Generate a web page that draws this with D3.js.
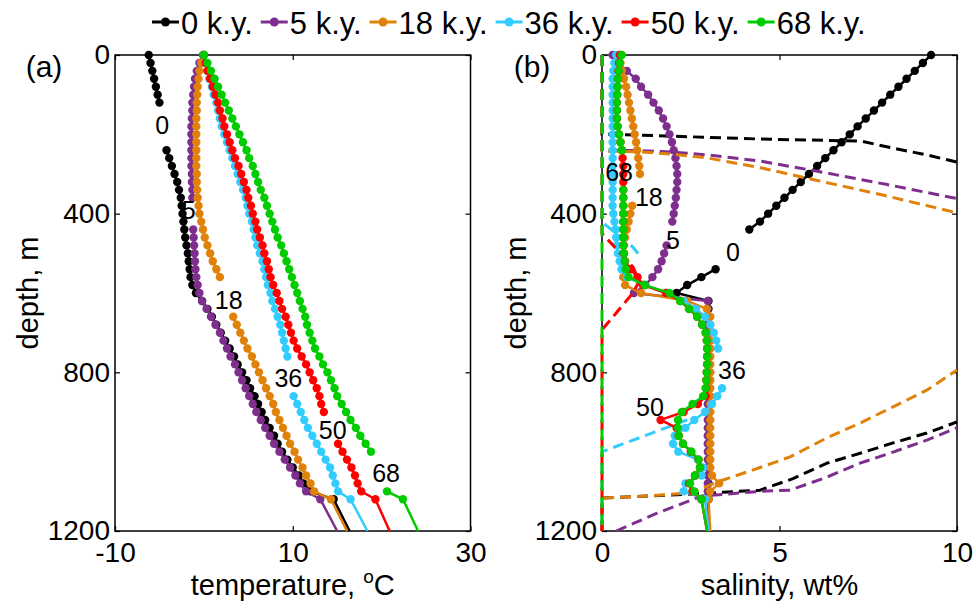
<!DOCTYPE html>
<html>
<head>
<meta charset="utf-8">
<script src="https://d3js.org/d3.v7.min.js"></script>
<style>
  body { margin: 0; background: #fff; }
  text { font-family: "Liberation Sans", Arial, Helvetica, sans-serif; fill: #000; }
</style>
</head>
<body>
<div id="chart"></div>
<script>
// depth grid (m) shared by all profiles; markers are drawn down to 1120 m
var depth = [
  0, 20, 40, 60, 80,
  100, 120, 140, 160, 180,
  200, 220, 240, 260, 280,
  300, 320, 340, 360, 380,
  400, 420, 440, 460, 480,
  500, 520, 540, 560, 580,
  600, 620, 640, 660, 680,
  700, 720, 740, 760, 780,
  800, 820, 840, 860, 880,
  900, 920, 940, 960, 980,
  1000, 1020, 1040, 1060, 1080,
  1100, 1120, 1200
];
var lastMarkedDepth = 1120;

var seriesNames = ["0 k.y.", "5 k.y.", "18 k.y.", "36 k.y.", "50 k.y.", "68 k.y."];
var seriesShort = ["0", "5", "18", "36", "50", "68"];
var seriesColors = ["#000000", "#7e2f8e", "#e0820a", "#33ccff", "#ff0000", "#00cc00"];

// (a) temperature, degC  (null = gap left for the curve label)
var temp0 = [
  -6.2, -6.0, -5.8, -5.6, -5.4,
  -5.2, -5.0, null, null, null,
  null, null, -4.2, -3.9, -3.6,
  -3.3, -3.0, -2.8, -2.6, -2.5,
  -2.4, -2.3, -2.2, -2.1, -1.95,
  -1.8, -1.7, -1.6, -1.5, -1.3,
  -0.9, -0.2, 0.4, 0.9, 1.4,
  1.9, 2.4, 2.9, 3.4, 3.8,
  4.3, 4.8, 5.2, 5.7, 6.1,
  6.5, 6.9, 7.4, 7.9, 8.3,
  8.8, 9.4, 10.0, 10.7, 11.2,
  12.0, 14.6, 16.4
];
var temp5 = [
  -0.1, -0.5, -0.8, -1.0, -1.1,
  -1.2, -1.3, -1.3, -1.35, -1.4,
  -1.4, -1.4, -1.4, -1.4, -1.4,
  -1.35, -1.35, -1.3, -1.3, null,
  null, null, -1.2, -1.15, -1.1,
  -1.05, -1.0, -0.95, -0.85, -0.7,
  -0.5, -0.2, 0.3, 0.8, 1.3,
  1.8, 2.2, 2.6, 3.0, 3.5,
  3.9, 4.3, 4.7, 5.1, 5.5,
  5.9, 6.4, 6.9, 7.4, 7.9,
  8.5, 9.1, 9.7, 10.3, 10.8,
  11.5, 13.1, 15.0
];
var temp18 = [
  0.0, -0.3, -0.5, -0.6, -0.7,
  -0.75, -0.8, -0.8, -0.85, -0.85,
  -0.85, -0.85, -0.85, -0.85, -0.85,
  -0.8, -0.8, -0.75, -0.7, -0.6,
  -0.5, -0.3, -0.1, 0.1, 0.4,
  0.7, 1.0, 1.4, 1.8, null,
  null, null, null, 3.3, 3.7,
  4.1, 4.5, 4.9, 5.4, 5.8,
  6.2, 6.6, 7.0, 7.4, 7.8,
  8.1, 8.5, 8.9, 9.3, 9.7,
  10.2, 10.6, 11.1, 11.5, 12.0,
  12.4, 14.3, 16.1
];
var temp36 = [
  0.0, 0.2, 0.4, 0.6, 0.9,
  1.1, 1.4, 1.6, 1.8, 2.0,
  2.3, 2.6, 2.9, 3.2, 3.5,
  3.8, 4.1, 4.4, 4.7, 4.9,
  5.1, 5.4, 5.6, 5.8, 6.0,
  6.3, 6.6, 6.8, 7.0, 7.2,
  7.5, 7.7, 8.0, 8.3, 8.6,
  8.8, 9.0, 9.2, 9.4, null,
  null, null, null, 10.1, 10.5,
  10.9, 11.3, 11.7, 12.2, 12.7,
  13.2, 13.7, 14.2, 14.5, 14.8,
  15.1, 16.5, 18.4
];
var temp50 = [
  0.0, 0.2, 0.4, 0.7, 1.0,
  1.3, 1.6, 1.8, 2.1, 2.3,
  2.6, 2.9, 3.2, 3.5, 3.9,
  4.2, 4.5, 4.8, 5.0, 5.3,
  5.5, 5.8, 6.0, 6.3, 6.6,
  6.8, 7.1, 7.3, 7.5, 7.8,
  8.2, 8.5, 8.8, 9.2, 9.5,
  9.8, 10.1, 10.5, 11.0, 11.5,
  11.9, 12.3, 12.7, 13.0, 13.2,
  13.5, null, null, null, 15.1,
  15.6, 16.1, 16.6, 17.0, 17.3,
  17.7, 19.3, 20.9
];
var temp68 = [
  0.0, 0.4, 0.8, 1.2, 1.6,
  2.0, 2.4, 2.8, 3.2, 3.6,
  4.0, 4.4, 4.8, 5.1, 5.5,
  5.8, 6.1, 6.4, 6.8, 7.1,
  7.4, 7.7, 8.0, 8.3, 8.7,
  9.0, 9.3, 9.6, 9.9, 10.2,
  10.5, 10.8, 11.1, 11.4, 11.6,
  11.9, 12.2, 12.5, 13.0, 13.4,
  13.9, 14.3, 14.7, 15.0, 15.5,
  16.0, 16.5, 17.1, 17.6, 18.2,
  18.8, null, null, null, null,
  20.6, 22.4, 24.1
];

// (b) salinity, wt%
var sal0 = [
  9.27, 9.04, 8.81, 8.58, 8.35,
  8.12, 7.89, 7.66, 7.43, 7.2,
  6.98, 6.75, 6.52, 6.29, 6.06,
  5.83, 5.6, 5.37, 5.14, 4.91,
  4.68, 4.45, 4.15, null, null,
  null, null, 3.2, 2.8, 2.4,
  2.1, 3.0, 3.0, 3.0, 3.0,
  3.0, 3.0, 3.0, 3.0, 3.0,
  3.0, 3.0, 3.0, 3.0, 3.0,
  3.0, 3.0, 3.0, 3.0, 3.0,
  3.0, 3.0, 3.0, 3.0, 3.0,
  3.0, 3.0, 3.0
];
var sal5 = [
  0.3, 0.45, 0.7, 0.95, 1.1,
  1.3, 1.45, 1.6, 1.72, 1.82,
  1.9, 1.97, 2.02, 2.07, 2.1,
  2.12, 2.12, 2.1, 2.08, 2.05,
  2.02, 1.98, null, null, 1.82,
  1.75, 1.68, 1.58, 1.42, 1.22,
  0.9, 2.98, 2.98, 2.98, 2.98,
  2.98, 2.98, 2.98, 2.98, 2.98,
  2.98, 2.98, 2.98, 2.98, 2.98,
  2.98, 2.98, 2.98, 2.98, 2.98,
  2.98, 2.98, 2.98, 2.98, 2.98,
  2.98, 2.98, 2.98
];
var sal18 = [
  0.5, 0.52, 0.56, 0.62, 0.68,
  0.72, 0.76, 0.8, 0.84, 0.88,
  0.92, 0.96, 0.99, 1.02, 1.05,
  1.07, null, null, null, 0.85,
  0.8, 0.75, 0.7, 0.65, 0.62,
  0.6, 0.6, 0.6, 0.6, 0.65,
  1.1, 2.4, 2.95, 3.05, 3.05,
  3.05, 3.05, 3.05, 3.05, 3.05,
  3.05, 3.05, 3.05, 3.05, 3.05,
  3.05, 3.05, 3.05, 3.05, 3.05,
  3.05, 3.05, 3.05, 3.1, 3.3,
  3.05, 3.0, 3.05
];
var sal36 = [
  0.4, 0.35, 0.32, 0.3, 0.3,
  0.3, 0.3, 0.3, 0.3, 0.3,
  0.3, 0.3, 0.3, 0.3, 0.3,
  0.3, 0.3, 0.3, 0.3, 0.3,
  0.32, 0.35, 0.38, 0.4, 0.42,
  0.45, 0.5, 0.55, 0.7, 1.2,
  1.83, 2.3, 2.65, 2.9, 3.05,
  3.15, 3.22, 3.27, null, null,
  null, null, 3.38, 3.25, 3.1,
  2.9, 2.6, 2.35, 2.05, 2.0,
  2.15, 2.7, 2.85, 2.8, 2.35,
  2.3, 2.9, 3.0
];
var sal50 = [
  0.5, 0.48, 0.46, 0.45, 0.44,
  0.43, 0.42, 0.42, 0.42, 0.44,
  0.48, 0.52, 0.56, 0.58, 0.6,
  0.6, 0.6, 0.6, 0.6, 0.6,
  0.6, 0.6, 0.6, 0.6, 0.6,
  0.62, 0.65, 0.8, 1.0, 1.15,
  1.8, 2.2, 2.45, 2.68, 2.82,
  2.92, 2.95, 2.96, 2.96, 2.96,
  2.95, 2.94, 2.93, 2.92, 2.7,
  2.3, 1.65, 2.1, 2.16, 2.28,
  2.5, 2.72, 2.76, 2.62, 2.45,
  2.55, 2.8, 2.96
];
var sal68 = [
  0.56, 0.5, 0.47, 0.45, 0.44,
  0.43, 0.42, 0.42, 0.42, 0.44,
  0.48, 0.52, 0.56, null, null,
  null, null, 0.6, 0.6, 0.6,
  0.6, 0.6, 0.6, 0.6, 0.6,
  0.62, 0.64, 0.67, 0.75, 1.2,
  1.9, 2.2, 2.45, 2.68, 2.82,
  2.92, 2.95, 2.96, 2.96, 2.96,
  2.95, 2.94, 2.92, 2.85, 2.55,
  2.25, 2.14, 2.14, 2.16, 2.28,
  2.52, 2.72, 2.76, 2.62, 2.48,
  2.6, 2.8, 2.96
];

// dashed curves in (b): salinity / depth pairs, null splits a curve in pieces
var dash0S = [0, 0, 4.5, 7.3, 8.2, 9.15, 10, null, 0, 0, 2.5, 4.45, 5.38, 6.34, 7.27, 8.2, 9.15, 10];
var dash0D = [0, 199, 212, 217, 235, 252, 270, null, 1200, 1117, 1107, 1097, 1068, 1029, 1004, 978, 953, 925];
var dash5S = [0, 0, 1, 2, 3, 4.5, 6, 8, 10, null, 0.4, 1.5, 2.8, 4.45, 5.3, 6.34, 7.27, 8.2, 9.15, 10];
var dash5D = [0, 240, 241, 245, 252, 268, 292, 326, 362, null, 1200, 1157, 1112, 1100, 1097, 1064, 1029, 1001, 971, 940];
var dash18S = [0, 0, 1, 2, 3, 4.5, 6, 8, 10, null, 0, 0, 1.2, 2.5, 3.3, 4.45, 5.3, 6.34, 7.27, 8.2, 9.15, 10];
var dash18D = [0, 242, 244, 250, 260, 285, 315, 355, 398, null, 1200, 1117, 1112, 1104, 1075, 1040, 1013, 965, 928, 887, 845, 794];
var dash36S = [0, 0, 0.87, 1.1, null, 2.4, 1.2, 0, 0];
var dash36D = [0, 421, 484, 510, null, 920, 960, 1000, 1200];
var dash50S = [0, 0, 0.17, 0.87, 1.05, 0.87, 0, 0];
var dash50D = [0, 450, 466, 534, 570, 600, 693, 1200];
var dash68S = [0, 0];
var dash68D = [0, 1200];

// curve labels: [value, depth]
var labelsA = [[-4.7, 176], [-1.7, 391], [2.8, 618], [9.5, 814], [14.5, 945], [20.5, 1054]];
var labelsB = [[3.69, 497], [2.0, 466], [1.32, 358], [3.66, 794], [1.35, 887], [0.48, 295]];

var tempSeries = [temp0, temp5, temp18, temp36, temp50, temp68];
var salSeries = [sal0, sal5, sal18, sal36, sal50, sal68];
var dashS = [dash0S, dash5S, dash18S, dash36S, dash50S, dash68S];
var dashD = [dash0D, dash5D, dash18D, dash36D, dash50D, dash68D];

var W = 976, H = 608;
var plotTop = 55, plotBottom = 531;

var svg = d3.select("#chart").append("svg")
    .attr("width", W)
    .attr("height", H);

var y = d3.scaleLinear().domain([0, 1200]).range([plotTop, plotBottom]);
var xT = d3.scaleLinear().domain([-10, 30]).range([115, 470.5]);
var xS = d3.scaleLinear().domain([0, 10]).range([602, 957]);

var plain = function(d) { return String(d); };

function frame(x, tickVals, title, titleSup, panelTag, tagX, yTitleX) {
    var g = svg.append("g");
    var x0 = x.range()[0], x1 = x.range()[1];

    // x ticks, bottom with labels, mirrored on top
    g.append("g").attr("transform", "translate(0," + plotBottom + ")")
        .call(d3.axisBottom(x).tickValues(tickVals).tickSize(-5).tickSizeOuter(0).tickPadding(11).tickFormat(plain));
    g.append("g").attr("transform", "translate(0," + plotTop + ")")
        .call(d3.axisTop(x).tickValues(tickVals).tickSize(-5).tickSizeOuter(0).tickFormat(""));
    g.append("g").attr("transform", "translate(" + x0 + ",0)")
        .call(d3.axisLeft(y).tickValues([0, 400, 800, 1200]).tickSize(-5).tickSizeOuter(0).tickPadding(5).tickFormat(plain));
    g.append("g").attr("transform", "translate(" + x1 + ",0)")
        .call(d3.axisRight(y).tickValues([0, 400, 800, 1200]).tickSize(-5).tickSizeOuter(0).tickFormat(""));

    g.selectAll(".domain").remove();
    g.selectAll(".tick line").attr("stroke", "#000").attr("stroke-width", 1.2);
    g.selectAll(".tick text")
        .attr("font-family", "Liberation Sans, Arial, sans-serif")
        .attr("font-size", 28)
        .attr("fill", "#000");

    g.append("rect")
        .attr("x", x0).attr("y", plotTop)
        .attr("width", x1 - x0).attr("height", plotBottom - plotTop)
        .attr("fill", "none").attr("stroke", "#000").attr("stroke-width", 1.5);

    var t = g.append("text")
        .attr("x", (x0 + x1) / 2).attr("y", 595)
        .attr("text-anchor", "middle")
        .attr("font-size", 29);
    t.append("tspan").text(title);
    if (titleSup) {
        t.append("tspan").attr("dy", -12).attr("font-size", 19).text(titleSup[0]);
        t.append("tspan").attr("dy", 12).text(titleSup[1]);
    }

    g.append("text")
        .attr("transform", "translate(" + yTitleX + "," + ((plotTop + plotBottom) / 2) + ") rotate(-90)")
        .attr("text-anchor", "middle")
        .attr("font-size", 29)
        .text("depth, m");

    g.append("text")
        .attr("x", tagX).attr("y", 77)
        .attr("text-anchor", "middle")
        .attr("font-size", 30)
        .text(panelTag);
}

frame(xT, [-10, 10, 30], "temperature, ", ["o", "C"], "(a)", 44, 38);
frame(xS, [0, 5, 10], "salinity, wt%", null, "(b)", 532, 526);

function profile(x, values, color) {
    var pts = depth.map(function(d, i) { return {d: d, v: values[i]}; });
    var line = d3.line()
        .defined(function(p) { return p.v != null; })
        .x(function(p) { return x(p.v); })
        .y(function(p) { return y(p.d); });
    var g = svg.append("g");
    g.append("path")
        .datum(pts)
        .attr("d", line)
        .attr("fill", "none")
        .attr("stroke", color)
        .attr("stroke-width", 2.5);
    g.selectAll("circle")
        .data(pts.filter(function(p) { return p.v != null && p.d <= lastMarkedDepth; }))
        .enter()
        .append("circle")
            .attr("cx", function(p) { return x(p.v); })
            .attr("cy", function(p) { return y(p.d); })
            .attr("r", 4.2)
            .attr("fill", color);
}

function dashed(sv, dv, color) {
    var pts = sv.map(function(s, i) { return {s: s, d: dv[i]}; });
    var line = d3.line()
        .defined(function(p) { return p.s != null; })
        .x(function(p) { return xS(p.s); })
        .y(function(p) { return y(p.d); });
    svg.append("path")
        .datum(pts)
        .attr("d", line)
        .attr("fill", "none")
        .attr("stroke", color)
        .attr("stroke-width", 3)
        .attr("stroke-dasharray", "11,6");
}

// (a)
tempSeries.forEach(function(vals, i) { profile(xT, vals, seriesColors[i]); });
// (b)
salSeries.forEach(function(vals, i) {
    profile(xS, vals, seriesColors[i]);
    dashed(dashS[i], dashD[i], seriesColors[i]);
});

// curve labels
function curveLabels(x, labels) {
    svg.append("g").selectAll("text")
        .data(labels)
        .enter()
        .append("text")
            .attr("x", function(d) { return x(d[0]); })
            .attr("y", function(d) { return y(d[1]); })
            .attr("dy", "0.36em")
            .attr("text-anchor", "middle")
            .attr("font-size", 25)
            .text(function(d, i) { return seriesShort[i]; });
}
curveLabels(xT, labelsA);
curveLabels(xS, labelsB);

// legend
var legend = svg.append("g");
var lx = 152, ly = 22;
seriesNames.forEach(function(name, i) {
    legend.append("line")
        .attr("x1", lx).attr("x2", lx + 27)
        .attr("y1", ly).attr("y2", ly)
        .attr("stroke", seriesColors[i]).attr("stroke-width", 3);
    legend.append("circle")
        .attr("cx", lx + 13.5).attr("cy", ly).attr("r", 4.5)
        .attr("fill", seriesColors[i]);
    var t = legend.append("text")
        .attr("x", lx + 29).attr("y", ly + 12)
        .attr("font-size", 31)
        .text(name);
    lx += 29 + t.node().getComputedTextLength() + 8;
});
</script>
</body>
</html>
